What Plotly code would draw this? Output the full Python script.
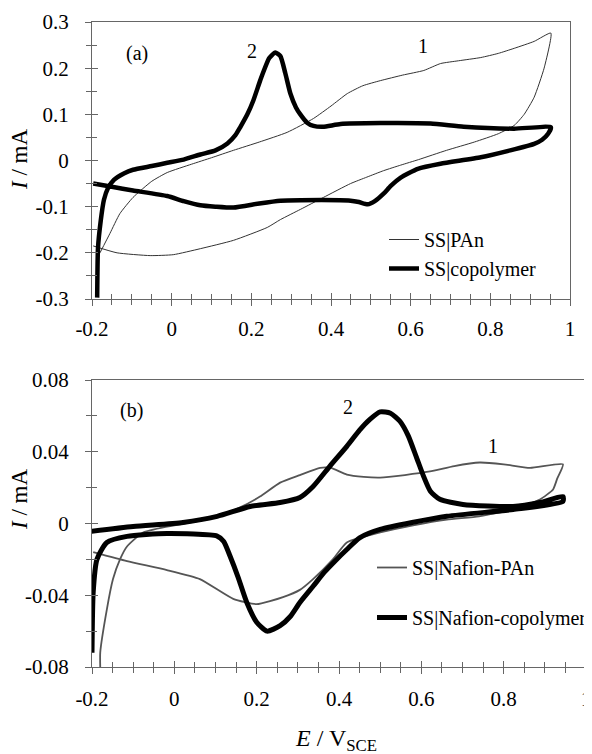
import plotly.graph_objects as go

# ---------------- Panel (a) data ----------------
a_pan_E = [-0.18, -0.155, -0.13, -0.097, -0.05, -0.011, 0.05, 0.10, 0.155, 0.22, 0.29, 0.356, 0.40, 0.441,
           0.48, 0.524, 0.58, 0.633, 0.675, 0.72, 0.776, 0.82, 0.86, 0.91, 0.952,
           0.935, 0.91, 0.885, 0.86, 0.82, 0.76, 0.69, 0.62, 0.575, 0.532, 0.49, 0.449, 0.381, 0.323,
           0.273, 0.24, 0.155, 0.072, 0.004, -0.054, -0.137, -0.197]
a_pan_I = [-0.20, -0.158, -0.115, -0.08, -0.045, -0.026, -0.008, 0.006, 0.022, 0.04, 0.061, 0.091, 0.118, 0.145,
           0.162, 0.173, 0.185, 0.195, 0.21, 0.216, 0.223, 0.232, 0.243, 0.258, 0.276,
           0.2, 0.137, 0.1, 0.076, 0.058, 0.04, 0.022, 0.002, -0.01, -0.022, -0.036, -0.05, -0.08, -0.106,
           -0.128, -0.145, -0.173, -0.191, -0.204, -0.206, -0.2, -0.185]

a_cop_E = [-0.187, -0.185, -0.178, -0.17, -0.16, -0.145, -0.12, -0.097, -0.05, -0.011, 0.03, 0.072, 0.11,
           0.14, 0.16, 0.172, 0.19, 0.205, 0.225, 0.245, 0.26, 0.273, 0.285, 0.298, 0.312, 0.323, 0.34,
           0.356, 0.38, 0.424, 0.524, 0.65, 0.733, 0.86, 0.952,
           0.945, 0.93, 0.91, 0.85, 0.776, 0.675, 0.618, 0.575, 0.55, 0.532, 0.51, 0.492, 0.47, 0.449,
           0.323, 0.273, 0.22, 0.155, 0.11, 0.072, 0.03, -0.011, -0.097, -0.15, -0.197]
a_cop_I = [-0.297, -0.19, -0.13, -0.085, -0.06, -0.042, -0.028, -0.02, -0.012, -0.005, 0.002, 0.013, 0.022,
           0.037, 0.055, 0.072, 0.1, 0.13, 0.18, 0.222, 0.234, 0.226, 0.19, 0.145, 0.115, 0.1, 0.082,
           0.075, 0.073, 0.079, 0.081, 0.08, 0.073, 0.069, 0.072,
           0.058, 0.045, 0.036, 0.022, 0.007, -0.007, -0.018, -0.037, -0.055, -0.072, -0.088, -0.095, -0.09, -0.087,
           -0.086, -0.087, -0.093, -0.102, -0.1, -0.097, -0.088, -0.077, -0.065, -0.057, -0.05]

# ---------------- Panel (b) data ----------------
b_pan_E = [-0.18, -0.18, -0.164, -0.149, -0.132, -0.115, -0.076, -0.018, 0.05, 0.104, 0.16, 0.208, 0.257,
           0.305, 0.354, 0.38, 0.419, 0.46, 0.5, 0.56, 0.621, 0.68, 0.742, 0.8, 0.864, 0.944,
           0.93, 0.92, 0.888, 0.823, 0.74, 0.662, 0.58, 0.5, 0.419, 0.385, 0.337, 0.305, 0.264, 0.2,
           0.143, 0.062, -0.018, -0.115, -0.197]
b_pan_I = [-0.08, -0.072, -0.048, -0.031, -0.02, -0.0128, -0.005, -0.0017, 0.001, 0.004, 0.009, 0.015, 0.0228,
           0.027, 0.031, 0.031, 0.0273, 0.026, 0.0256, 0.027, 0.029, 0.032, 0.034, 0.033, 0.031, 0.033,
           0.025, 0.019, 0.0134, 0.0078, 0.004, 0.0022, -0.001, -0.005, -0.0106, -0.02, -0.031, -0.037, -0.041, -0.045,
           -0.042, -0.031, -0.026, -0.021, -0.016]

b_cop_E = [-0.205, -0.1, 0.021, 0.104, 0.184, 0.257, 0.305, 0.337, 0.378, 0.419, 0.45, 0.475, 0.50, 0.525,
           0.548, 0.568, 0.588, 0.606, 0.622, 0.645, 0.701, 0.823, 0.888, 0.944,
           0.944, 0.823, 0.662, 0.5, 0.45, 0.419, 0.39, 0.365, 0.337, 0.305, 0.281, 0.257, 0.225, 0.2, 0.176,
           0.155, 0.135, 0.12, 0.104, -0.018, -0.115, -0.164, -0.188, -0.197, -0.2]
b_cop_I = [-0.0045, -0.0017, 0.0006, 0.004, 0.0095, 0.0117, 0.0145, 0.0206, 0.032, 0.043, 0.052, 0.058, 0.0622, 0.0615,
           0.057, 0.049, 0.037, 0.026, 0.018, 0.0135, 0.0106, 0.0095, 0.0117, 0.015,
           0.0123, 0.0078, 0.004, -0.0033, -0.008, -0.0145, -0.021, -0.027, -0.035, -0.044, -0.052, -0.057, -0.06, -0.055, -0.044,
           -0.03, -0.018, -0.01, -0.007, -0.0056, -0.0072, -0.0106, -0.02, -0.038, -0.072]

# ---------------- Ticks ----------------
x_tickvals = [-0.2, 0, 0.2, 0.4, 0.6, 0.8, 1.0]
x_ticktext = ["-0.2", "0", "0.2", "0.4", "0.6", "0.8", "1"]
ya_tickvals = [-0.3, -0.2, -0.1, 0, 0.1, 0.2, 0.3]
ya_ticktext = ["-0.3", "-0.2", "-0.1", "0", "0.1", "0.2", "0.3"]
yb_tickvals = [-0.08, -0.04, 0, 0.04, 0.08]
yb_ticktext = ["-0.08", "-0.04", "0", "0.04", "0.08"]

FONT = "Liberation Serif, Times New Roman, Times, serif"
AX = "#666666"

fig = go.Figure()
fig.add_trace(go.Scatter(x=a_pan_E, y=a_pan_I, mode="lines", name="SS|PAn",
                         line=dict(color="#333333", width=1, shape="spline", smoothing=0.5),
                         xaxis="x", yaxis="y", legend="legend", legendgroup="a1"))
fig.add_trace(go.Scatter(x=a_cop_E, y=a_cop_I, mode="lines", name="SS|copolymer",
                         line=dict(color="black", width=4.5, shape="spline", smoothing=0.5),
                         xaxis="x", yaxis="y", legend="legend", legendgroup="a2"))
fig.add_trace(go.Scatter(x=b_pan_E, y=b_pan_I, mode="lines", name="SS|Nafion-PAn",
                         line=dict(color="#555555", width=1.8, shape="spline", smoothing=0.5),
                         xaxis="x2", yaxis="y2", legend="legend2", legendgroup="b1"))
fig.add_trace(go.Scatter(x=b_cop_E, y=b_cop_I, mode="lines", name="SS|Nafion-copolymer",
                         line=dict(color="black", width=5, shape="spline", smoothing=0.6),
                         xaxis="x2", yaxis="y2", legend="legend2", legendgroup="b2"))
# dummy traces to activate overlay tick axes
fig.add_trace(go.Scatter(x=[0], y=[0], mode="lines", xaxis="x3", yaxis="y3", showlegend=False,
                         hoverinfo="skip", line=dict(width=0)))
fig.add_trace(go.Scatter(x=[0], y=[0], mode="lines", xaxis="x4", yaxis="y4", showlegend=False,
                         hoverinfo="skip", line=dict(width=0)))

W, H = 592, 754
OFF = 8  # page body margin offset
xa_dom = [(92 - OFF) / W, (570 - OFF) / W]
xb_dom = [(92 - OFF) / W, (586 - OFF) / W]
ya_dom = [1 - (299 - OFF) / H, 1 - (22 - OFF) / H]
yb_dom = [1 - (667 - OFF) / H, 1 - (380 - OFF) / H]

tickfont = dict(family=FONT, size=21, color="black")


def main_axis(dom, anchor, rng, tv, tt, minor_dt, standoff):
    return dict(domain=dom, anchor=anchor, range=rng, tickmode="array", tickvals=tv, ticktext=tt,
                showgrid=False, zeroline=False, showline=True, linecolor=AX, linewidth=1.3,
                mirror=True, ticks="outside", ticklen=6, tickwidth=1.3, tickcolor=AX,
                minor=dict(dtick=minor_dt, ticks="outside", ticklen=5, tickwidth=1.1, tickcolor=AX),
                tickfont=tickfont, ticklabelstandoff=standoff, fixedrange=True, automargin=False)


def overlay_axis(over, anchor, rng, tv, minor_dt, side):
    return dict(overlaying=over, anchor=anchor, range=rng, side=side, tickmode="array", tickvals=tv,
                showticklabels=False, showgrid=False, zeroline=False, showline=False,
                ticks="inside", ticklen=6, tickwidth=1.3, tickcolor=AX, automargin=False,
                minor=dict(dtick=minor_dt, ticks="inside", ticklen=5, tickwidth=1.1, tickcolor=AX))


fig.update_layout(
    width=W, height=H, margin=dict(l=0, r=0, t=0, b=0, pad=0), autosize=False,
    paper_bgcolor="white", plot_bgcolor="white",
    font=dict(family=FONT, size=20, color="black"),
    xaxis=main_axis(xa_dom, "y", [-0.2, 1.0], x_tickvals, x_ticktext, 0.05, 5),
    yaxis=main_axis(ya_dom, "x", [-0.3, 0.3], ya_tickvals, ya_ticktext, 0.05, 12),
    xaxis2=main_axis(xb_dom, "y2", [-0.2, 1.0], x_tickvals, x_ticktext, 0.05, 7),
    yaxis2=main_axis(yb_dom, "x2", [-0.08, 0.08], yb_tickvals, yb_ticktext, 0.02, 12),
    xaxis3=overlay_axis("x", "y", [-0.2, 1.0], x_tickvals, 0.05, "bottom"),
    yaxis3=overlay_axis("y", "x", [-0.3, 0.3], ya_tickvals, 0.05, "left"),
    xaxis4=overlay_axis("x2", "y2", [-0.2, 1.0], x_tickvals, 0.05, "bottom"),
    yaxis4=overlay_axis("y2", "x2", [-0.08, 0.08], yb_tickvals, 0.02, "left"),
    legend=dict(x=(384 - OFF) / W, y=1 - (220 - OFF) / H, xanchor="left", yanchor="top",
                bgcolor="rgba(0,0,0,0)", font=dict(family=FONT, size=20),
                traceorder="grouped", tracegroupgap=0),
    legend2=dict(x=(592 - OFF) / W, y=1 - (548 - OFF) / H, xanchor="right", yanchor="top",
                 bgcolor="rgba(0,0,0,0)", font=dict(family=FONT, size=20),
                 traceorder="grouped", tracegroupgap=21),
    showlegend=True,
)

ann_font = dict(family=FONT, size=20, color="black")
annotations = [
    dict(text="(a)", x=-0.087, y=0.232, xref="x", yref="y", showarrow=False, font=ann_font),
    dict(text="2", x=0.2025, y=0.238, xref="x", yref="y", showarrow=False, font=ann_font),
    dict(text="1", x=0.63, y=0.249, xref="x", yref="y", showarrow=False, font=ann_font),
    dict(text="(b)", x=-0.103, y=0.063, xref="x2", yref="y2", showarrow=False, font=ann_font),
    dict(text="2", x=0.422, y=0.065, xref="x2", yref="y2", showarrow=False, font=ann_font),
    dict(text="1", x=0.774, y=0.043, xref="x2", yref="y2", showarrow=False, font=ann_font),
    dict(text="<i>I</i> / mA", x=(19 - OFF) / W, y=1 - (160 - OFF) / H, xref="paper", yref="paper",
         xanchor="center", yanchor="middle", showarrow=False,
         textangle=-90, font=dict(family=FONT, size=23, color="black")),
    dict(text="<i>I</i> / mA", x=(19 - OFF) / W, y=1 - (500 - OFF) / H, xref="paper", yref="paper",
         xanchor="center", yanchor="middle", showarrow=False,
         textangle=-90, font=dict(family=FONT, size=23, color="black")),
    dict(text="<i>E</i> / V<sub>SCE</sub>", x=(336 - OFF) / W, y=1 - (740 - OFF) / H, xref="paper",
         yref="paper", xanchor="center", yanchor="middle",
         showarrow=False, font=dict(family=FONT, size=24, color="black")),
]
fig.update_layout(annotations=annotations)

fig.write_html("out.html")
